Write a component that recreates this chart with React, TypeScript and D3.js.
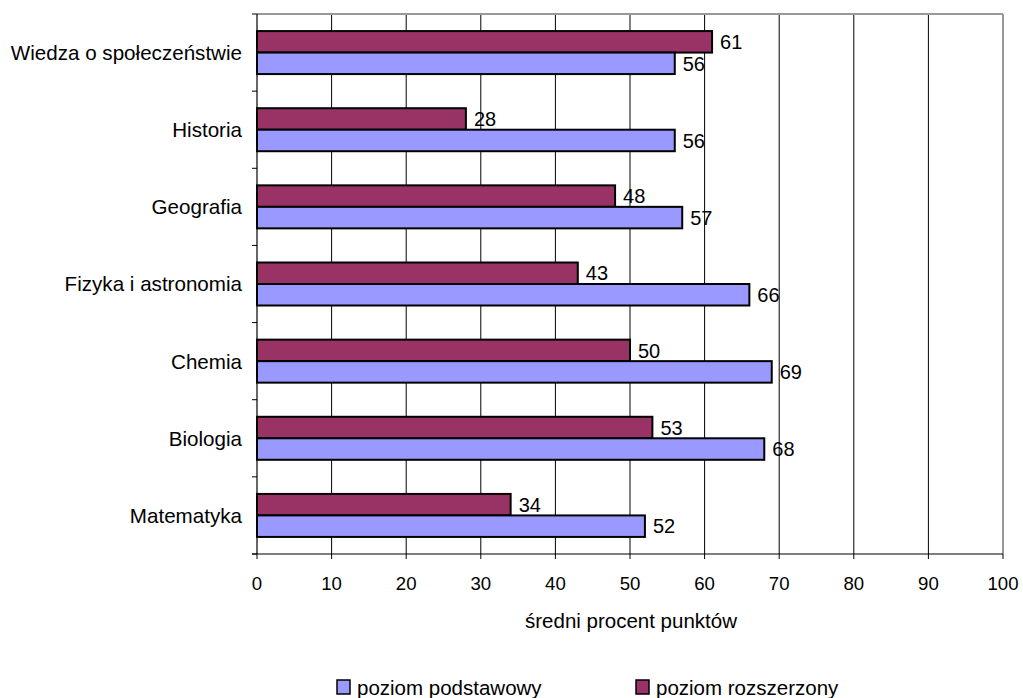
import React from "react";
import * as d3 from "d3";

const categories = ["Wiedza o społeczeństwie", "Historia", "Geografia", "Fizyka i astronomia", "Chemia", "Biologia", "Matematyka"];
const rozszerzony = [61, 28, 48, 43, 50, 53, 34];
const podstawowy = [56, 56, 57, 66, 69, 68, 52];
const xTicks = [0, 10, 20, 30, 40, 50, 60, 70, 80, 90, 100];
const seriesNames = ["poziom podstawowy", "poziom rozszerzony"];
const axisTitle = "średni procent punktów";

const W = 1023, H = 698;
const left = 257, right = 1003, top = 14, bottom = 554;
const font = "'Liberation Sans', Arial, sans-serif";
const blue = "#9999FF", maroon = "#993366";

export default function App() {
  const x = d3.scaleLinear().domain([0, 100]).range([left, right]);
  const y = d3.scaleBand<string>().domain(categories).range([top, bottom]);
  const bw = y.bandwidth();
  const barH = 21.5;
  const groupTop = (c: string) => (y(c) as number) + (bw - 2 * barH) / 2;

  return (
    <svg width={W} height={H} style={{ position: "absolute", left: 0, top: 0, background: "#fff" }} fontFamily={font}>
      {xTicks.slice(1, -1).map((t) => (
        <line key={"g" + t} x1={x(t)} x2={x(t)} y1={top} y2={bottom} stroke="#000" strokeWidth={1} />
      ))}
      <line x1={left} x2={right} y1={top} y2={top} stroke="#999" strokeWidth={2} />
      <line x1={right} x2={right} y1={top} y2={bottom} stroke="#999" strokeWidth={2} />
      {categories.map((c, i) => {
        const gt = groupTop(c);
        return (
          <g key={c}>
            <rect x={x(0)} y={gt} width={x(rozszerzony[i]) - x(0)} height={barH} fill={maroon} stroke="#000" strokeWidth={2} />
            <rect x={x(0)} y={gt + barH} width={x(podstawowy[i]) - x(0)} height={barH} fill={blue} stroke="#000" strokeWidth={2} />
            <text x={x(rozszerzony[i]) + 8} y={gt + barH / 2} dy="0.36em" fontSize={20} fill="#000">{rozszerzony[i]}</text>
            <text x={x(podstawowy[i]) + 8} y={gt + barH * 1.5} dy="0.36em" fontSize={20} fill="#000">{podstawowy[i]}</text>
            <text x={242} y={(y(c) as number) + bw / 2} dy="0.36em" textAnchor="end" fontSize={20.6} fill="#000">{c}</text>
          </g>
        );
      })}
      <line x1={left} x2={left} y1={top} y2={bottom} stroke="#000" strokeWidth={1.2} />
      {categories.map((c) => (
        <line key={"yt" + c} x1={left - 5} x2={left} y1={y(c)} y2={y(c)} stroke="#000" />
      ))}
      <line x1={left - 5} x2={left} y1={bottom} y2={bottom} stroke="#000" />
      <line x1={left - 5} x2={right} y1={bottom} y2={bottom} stroke="#000" strokeWidth={1.2} />
      {xTicks.map((t) => (
        <g key={"xt" + t}>
          <line x1={x(t)} x2={x(t)} y1={bottom} y2={bottom + 5} stroke="#000" />
          <text x={x(t)} y={583} dy="0.36em" textAnchor="middle" fontSize={18.6} fill="#000">{t}</text>
        </g>
      ))}
      <text x={631} y={621} dy="0.36em" textAnchor="middle" fontSize={20.5} fill="#000">{axisTitle}</text>
      {seriesNames.map((s, i) => {
        const lx = i === 0 ? 337 : 636;
        return (
          <g key={s}>
            <rect x={lx} y={680} width={13} height={14} fill={i === 0 ? blue : maroon} stroke="#000" strokeWidth={1.5} />
            <text x={lx + 20} y={688} dy="0.36em" fontSize={20.5} fill="#000">{s}</text>
          </g>
        );
      })}
    </svg>
  );
}
